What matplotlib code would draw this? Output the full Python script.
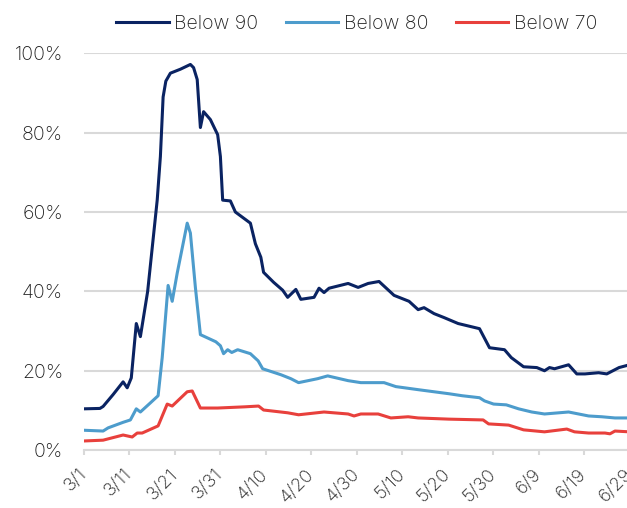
import matplotlib
matplotlib.use("Agg")
import matplotlib.pyplot as plt
from matplotlib.ticker import PercentFormatter

# days since 3/1
below90_days = [0, 3.5, 4.2, 6.4, 8.6, 9.5, 10.4, 11.5, 12.4, 14, 16.1, 16.8, 17.4, 18, 19,
                21.2, 23.4, 24.1, 24.9, 25.6, 26.3, 27.8, 29.4, 30, 30.5, 32.2, 33.3, 36.6,
                37.7, 38.9, 39.5, 41.7, 43.7, 44.8, 46.6, 47.7, 50.6, 51.7, 52.8, 53.9, 58.1,
                60.3, 62.5, 64.9, 68.2, 71.5, 73.5, 74.8, 77, 79.2, 82.3, 85.2, 87, 89.2,
                92.5, 94, 96.7, 99.6, 101.3, 102.4, 103.5, 106.6, 108.4, 110.2, 113.2, 115,
                117.7, 120]
below90 = [10.4, 10.5, 11, 14, 17.2, 15.7, 18.2, 31.9, 28.6, 40, 63, 74, 89, 93, 95,
           96, 97.2, 96.4, 93.4, 81.3, 85.3, 83.3, 79.5, 74, 63, 62.8, 60, 57.2,
           52, 48.6, 44.8, 42.3, 40.3, 38.5, 40.5, 38, 38.5, 40.8, 39.7, 40.8, 42,
           41, 42, 42.5, 39, 37.5, 35.4, 35.9, 34.4, 33.4, 31.9, 31.1, 30.6, 25.8,
           25.3, 23.3, 21, 20.8, 20, 20.8, 20.5, 21.5, 19.2, 19.2, 19.5, 19.2,
           20.8, 21.5]

below80_days = [0, 4.2, 5.3, 8.6, 10.2, 11.5, 12.4, 14.6, 16.3, 17.2, 18.5, 19.4, 20.5,
                22.7, 23.4, 24.5, 25.6, 29, 30, 30.7, 31.6, 32.5, 33.8, 36.6, 38.3, 39.3,
                43.3, 45.5, 47.2, 51.4, 53.6, 58.1, 60.9, 66, 68.6, 73.7, 80.3, 83.2, 87,
                88.1, 90.1, 92.9, 95.6, 98.5, 101.3, 106.6, 111, 113.9, 116.8, 120]
below80 = [5, 4.8, 5.6, 7, 7.6, 10.4, 9.6, 11.9, 13.7, 23.3, 41.5, 37.5, 44.6,
           57.2, 54.7, 41, 29.1, 27.3, 26.3, 24.3, 25.3, 24.6, 25.3, 24.3, 22.5, 20.5,
           19, 18, 17, 18, 18.7, 17.5, 17, 17, 16, 15.2, 14.2, 13.7, 13.2,
           12.4, 11.6, 11.4, 10.4, 9.6, 9.1, 9.6, 8.6, 8.4, 8.1, 8.1]

below70_days = [0, 4.2, 8.6, 10.6, 11.7, 12.8, 16.3, 18.3, 19.4, 22.7, 23.8, 25.6, 29.4,
                35.3, 38.4, 39.5, 44.8, 47.2, 52.8, 58.1, 59.4, 60.9, 64.7, 67.5, 71.3,
                73.5, 80.3, 87.8, 89, 93.4, 96.7, 101.3, 106.2, 107.9, 111, 114.6, 115.7,
                116.8, 120]
below70 = [2.3, 2.5, 3.8, 3.3, 4.3, 4.3, 6.1, 11.6, 11.1, 14.7, 14.9, 10.6, 10.6,
           10.9, 11.1, 10.1, 9.4, 8.9, 9.6, 9.1, 8.6, 9.1, 9.1, 8.1, 8.4,
           8.1, 7.8, 7.6, 6.6, 6.3, 5.1, 4.6, 5.3, 4.6, 4.3, 4.3, 4.1,
           4.8, 4.6]

tick_days = list(range(0, 121, 10))
tick_labels = ["3/1", "3/11", "3/21", "3/31", "4/10", "4/20", "4/30",
               "5/10", "5/20", "5/30", "6/9", "6/19", "6/29"]

plt.rcParams['font.family'] = ['Inter', 'Open Sans', 'DejaVu Sans']
plt.rcParams['font.weight'] = 'light'

fig = plt.figure(figsize=(6.27, 5.08), dpi=100)
ax = fig.add_axes([0.134, 0.114, 0.870, 0.781])

ax.plot(below90_days, below90, color='#0a2362', lw=2.2, label='Below 90')
ax.plot(below80_days, below80, color='#4d9ccc', lw=2.2, label='Below 80')
ax.plot(below70_days, below70, color='#e8403c', lw=2.2, label='Below 70')

ax.set_xlim(0, 120)
ax.set_ylim(0, 100)
ax.set_yticks(range(0, 101, 20))
ax.yaxis.set_major_formatter(PercentFormatter(decimals=0))
ax.set_xticks(tick_days)
ax.set_xticklabels(tick_labels, rotation=45, ha='right', va='center',
                   rotation_mode='anchor')

ax.grid(axis='y', color='#d9d9d9', lw=1.5)
ax.set_axisbelow(True)
for s in ['top', 'right', 'left']:
    ax.spines[s].set_visible(False)
ax.spines['bottom'].set_color('#d9d9d9')
ax.spines['bottom'].set_linewidth(1.5)
ax.tick_params(axis='y', length=0, labelsize=14, labelcolor='#1e1e1e', pad=15)
ax.tick_params(axis='x', length=3.6, width=1.5, color='#d9d9d9',
               labelsize=13.3, labelcolor='#1e1e1e', pad=12)

fig.legend(loc='center', bbox_to_anchor=(0.569, 0.953), ncol=3, frameon=False,
           fontsize=14, handlelength=2.7, handletextpad=0.3, columnspacing=1.4,
           labelcolor='#1e1e1e')

fig.savefig('out.png', dpi=100)
